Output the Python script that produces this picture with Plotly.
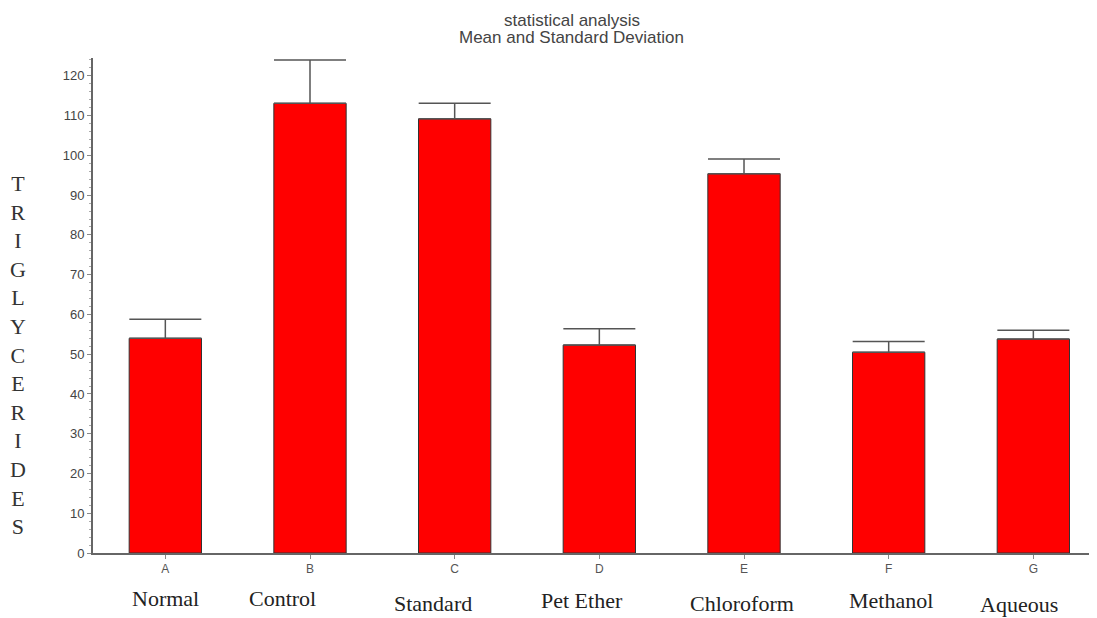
import plotly.graph_objects as go

letters = ["A", "B", "C", "D", "E", "F", "G"]
groups = ["Normal", "Control", "Standard", "Pet Ether", "Chloroform", "Methanol", "Aqueous"]
means = [54.0, 113.1, 109.2, 52.3, 95.4, 50.5, 53.8]
sds = [4.8, 10.9, 3.9, 4.1, 3.7, 2.7, 2.2]
yticks = [0, 10, 20, 30, 40, 50, 60, 70, 80, 90, 100, 110, 120]
title_lines = ["statistical analysis", "Mean and Standard Deviation"]
ytitle = "TRIGLYCERIDES"
# label offsets (px) to mimic the hand-placed names
name_dx = [0, -28, -22, -17, -2, 2, -14]
name_dy = [0, 0, -5, -2, -5, -2, -6]

fig = go.Figure()
fig.add_trace(go.Bar(
    x=letters, y=means,
    width=0.5,
    marker=dict(color="#ff0000", line=dict(color="#333333", width=1)),
    error_y=dict(type="data", array=sds, symmetric=False, arrayminus=[0]*7,
                 color="#555555", thickness=1.5, width=36),
))

for i, (g, dx, dy) in enumerate(zip(groups, name_dx, name_dy)):
    fig.add_annotation(x=letters[i], y=0, xref="x", yref="y", text=g,
                       showarrow=False, yanchor="middle", xshift=dx, yshift=-45 + dy,
                       font=dict(family="Liberation Serif", size=22, color="#222222"))

fig.add_annotation(x=-0.075, xref="paper", xanchor="center", y=0.4, yref="paper",
                   text="<br>".join(list(ytitle)), showarrow=False,
                   font=dict(family="Liberation Serif", size=22, color="#333333"),
                   align="center")

for j, line in enumerate(title_lines):
    fig.add_annotation(x=0.477, xref="paper", xanchor="center",
                       y=1.0, yref="paper", yanchor="middle", yshift=38 - 17 * j,
                       text=line, showarrow=False,
                       font=dict(family="Liberation Sans", size=17, color="#444444"))

fig.update_layout(
    width=1089, height=610,
    paper_bgcolor="white", plot_bgcolor="white",
    margin=dict(l=85, r=0, t=50, b=65),
    showlegend=False,
    bargap=0.5,
)
fig.update_xaxes(range=[-0.5, 6.44], showline=True, linecolor="#666666", linewidth=2,
                 ticks="outside", ticklen=4, tickcolor="#888888",
                 tickfont=dict(family="Liberation Sans", size=12, color="#555555"),
                 minor=dict(ticks="outside", ticklen=3, tickcolor="#aaaaaa", dtick=0.5),
                 showgrid=False, zeroline=False)
fig.update_yaxes(range=[0, 124.5], tickvals=yticks, showline=True, linecolor="#666666", linewidth=2,
                 ticks="outside", ticklen=4, tickcolor="#888888",
                 tickfont=dict(family="Liberation Sans", size=13, color="#444444"),
                 minor=dict(ticks="outside", ticklen=2, tickcolor="#aaaaaa", dtick=2),
                 showgrid=False, zeroline=False)

fig.write_html("out.html")
